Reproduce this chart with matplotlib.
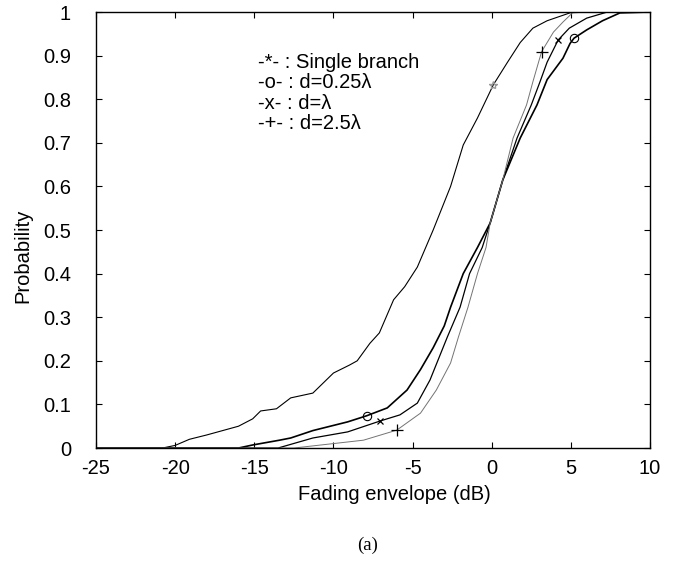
import matplotlib
matplotlib.use("Agg")
import matplotlib.pyplot as plt

plt.rcParams['font.family'] = ['Liberation Sans', 'DejaVu Sans']
plt.rcParams['axes.unicode_minus'] = False

# CDF curves (x in dB, y probability)
x_single = [-25, -20.8, -20.0, -19.1, -18.0, -17.0, -16.0, -15.1, -14.6, -13.6, -12.7, -11.3, -10.0, -9.0,
            -8.5, -7.7, -7.1, -6.2, -5.5, -4.7, -3.7, -2.6, -1.8, -0.9, 0.1, 1.0, 1.8, 2.6, 3.5, 5.1, 10]
y_single = [0, 0, 0.006, 0.02, 0.03, 0.04, 0.05, 0.067, 0.085, 0.09, 0.115, 0.126, 0.172, 0.19,
            0.2, 0.24, 0.264, 0.34, 0.37, 0.415, 0.5, 0.6, 0.695, 0.757, 0.833, 0.885, 0.93, 0.963, 0.98, 1.0, 1.0]

x_d025 = [-25, -16.0, -15.1, -13.4, -12.7, -11.3, -10.2, -9.1, -7.9, -6.6, -5.35, -4.5, -3.7, -3.0, -2.6,
          -1.8, -0.9, -0.1, 0.7, 1.8, 2.86, 3.5, 4.5, 4.95, 5.2, 6.0, 7.0, 8.1, 10]
y_d025 = [0, 0, 0.007, 0.018, 0.023, 0.04, 0.05, 0.06, 0.074, 0.092, 0.133, 0.18, 0.23, 0.28, 0.323,
          0.4, 0.46, 0.516, 0.615, 0.711, 0.787, 0.845, 0.894, 0.928, 0.94, 0.959, 0.98, 0.998, 1.0]

x_d1 = [-25, -13.5, -11.3, -9.1, -7.05, -5.8, -4.7, -3.9, -3.3, -2.8, -2.0, -1.4, -0.6, -0.1, 0.7,
        1.6, 2.5, 3.05, 3.5, 4.2, 4.9, 6.0, 7.3, 10]
y_d1 = [0, 0, 0.023, 0.037, 0.062, 0.076, 0.103, 0.156, 0.21, 0.255, 0.323, 0.4, 0.46, 0.516, 0.615,
        0.711, 0.787, 0.84, 0.885, 0.936, 0.963, 0.986, 1.0, 1.0]

x_d25 = [-25, -12.5, -9.8, -8.1, -6.0, -4.5, -3.5, -2.6, -2.1, -1.5, -0.9, -0.36, -0.1, 0.7,
         1.35, 2.2, 2.6, 3.15, 3.9, 4.5, 5.1, 6.0, 10]
y_d25 = [0, 0, 0.011, 0.018, 0.041, 0.08, 0.133, 0.195, 0.255, 0.323, 0.4, 0.46, 0.516, 0.615,
         0.711, 0.787, 0.84, 0.909, 0.954, 0.977, 0.998, 1.0, 1.0]

legend_lines = ['-*- : Single branch', '-o- : d=0.25\u03bb', '-x- : d=\u03bb', '-+- : d=2.5\u03bb']

fig = plt.figure(figsize=(6.8, 5.7), dpi=100)
ax = fig.add_axes([0.1412, 0.2140, 0.8147, 0.7649])

ax.plot(x_single, y_single, color='black', lw=0.8, marker='*', ms=6, mec='0.6', mfc='none',
        markevery=[x_single.index(0.1)])
ax.plot(x_d025, y_d025, color='black', lw=1.2, marker='o', ms=6, mfc='none', mew=0.8,
        markevery=[x_d025.index(-7.9), x_d025.index(5.2)])
ax.plot(x_d1, y_d1, color='black', lw=0.9, marker='x', ms=5, mew=0.9,
        markevery=[x_d1.index(-7.05), x_d1.index(4.2)])
ax.plot(x_d25, y_d25, color='0.45', lw=0.7, marker='+', ms=8, mew=0.9, mec='black',
        markevery=[x_d25.index(-6.0), x_d25.index(3.15)])

ax.set_xlim(-25, 10)
ax.set_ylim(0, 1)
ax.set_xticks(range(-25, 11, 5))
ax.set_yticks([i / 10 for i in range(11)])
ax.set_yticklabels(['0', '0.1', '0.2', '0.3', '0.4', '0.5', '0.6', '0.7', '0.8', '0.9', '1'])
ax.tick_params(direction='in', top=True, right=True, length=4, width=0.8, labelsize=14.5)
ax.tick_params(axis='x', pad=8)
ax.tick_params(axis='y', pad=18)
for s in ax.spines.values():
    s.set_linewidth(1.0)

ax.set_xlabel('Fading envelope (dB)', fontsize=14.5)
ax.xaxis.set_label_coords(0.538, -0.085)
ax.set_ylabel('Probability', fontsize=14.5)
ax.yaxis.set_label_coords(-0.115, 0.44)

for i, line in enumerate(legend_lines):
    ax.text(0.292, 0.885 - i * 0.047, line, transform=ax.transAxes, fontsize=14.5, va='center', ha='left')

fig.text(0.54, 0.044, '(a)', family='Liberation Serif', fontsize=13.5, ha='center', va='center')

fig.savefig('out.png', dpi=100)
